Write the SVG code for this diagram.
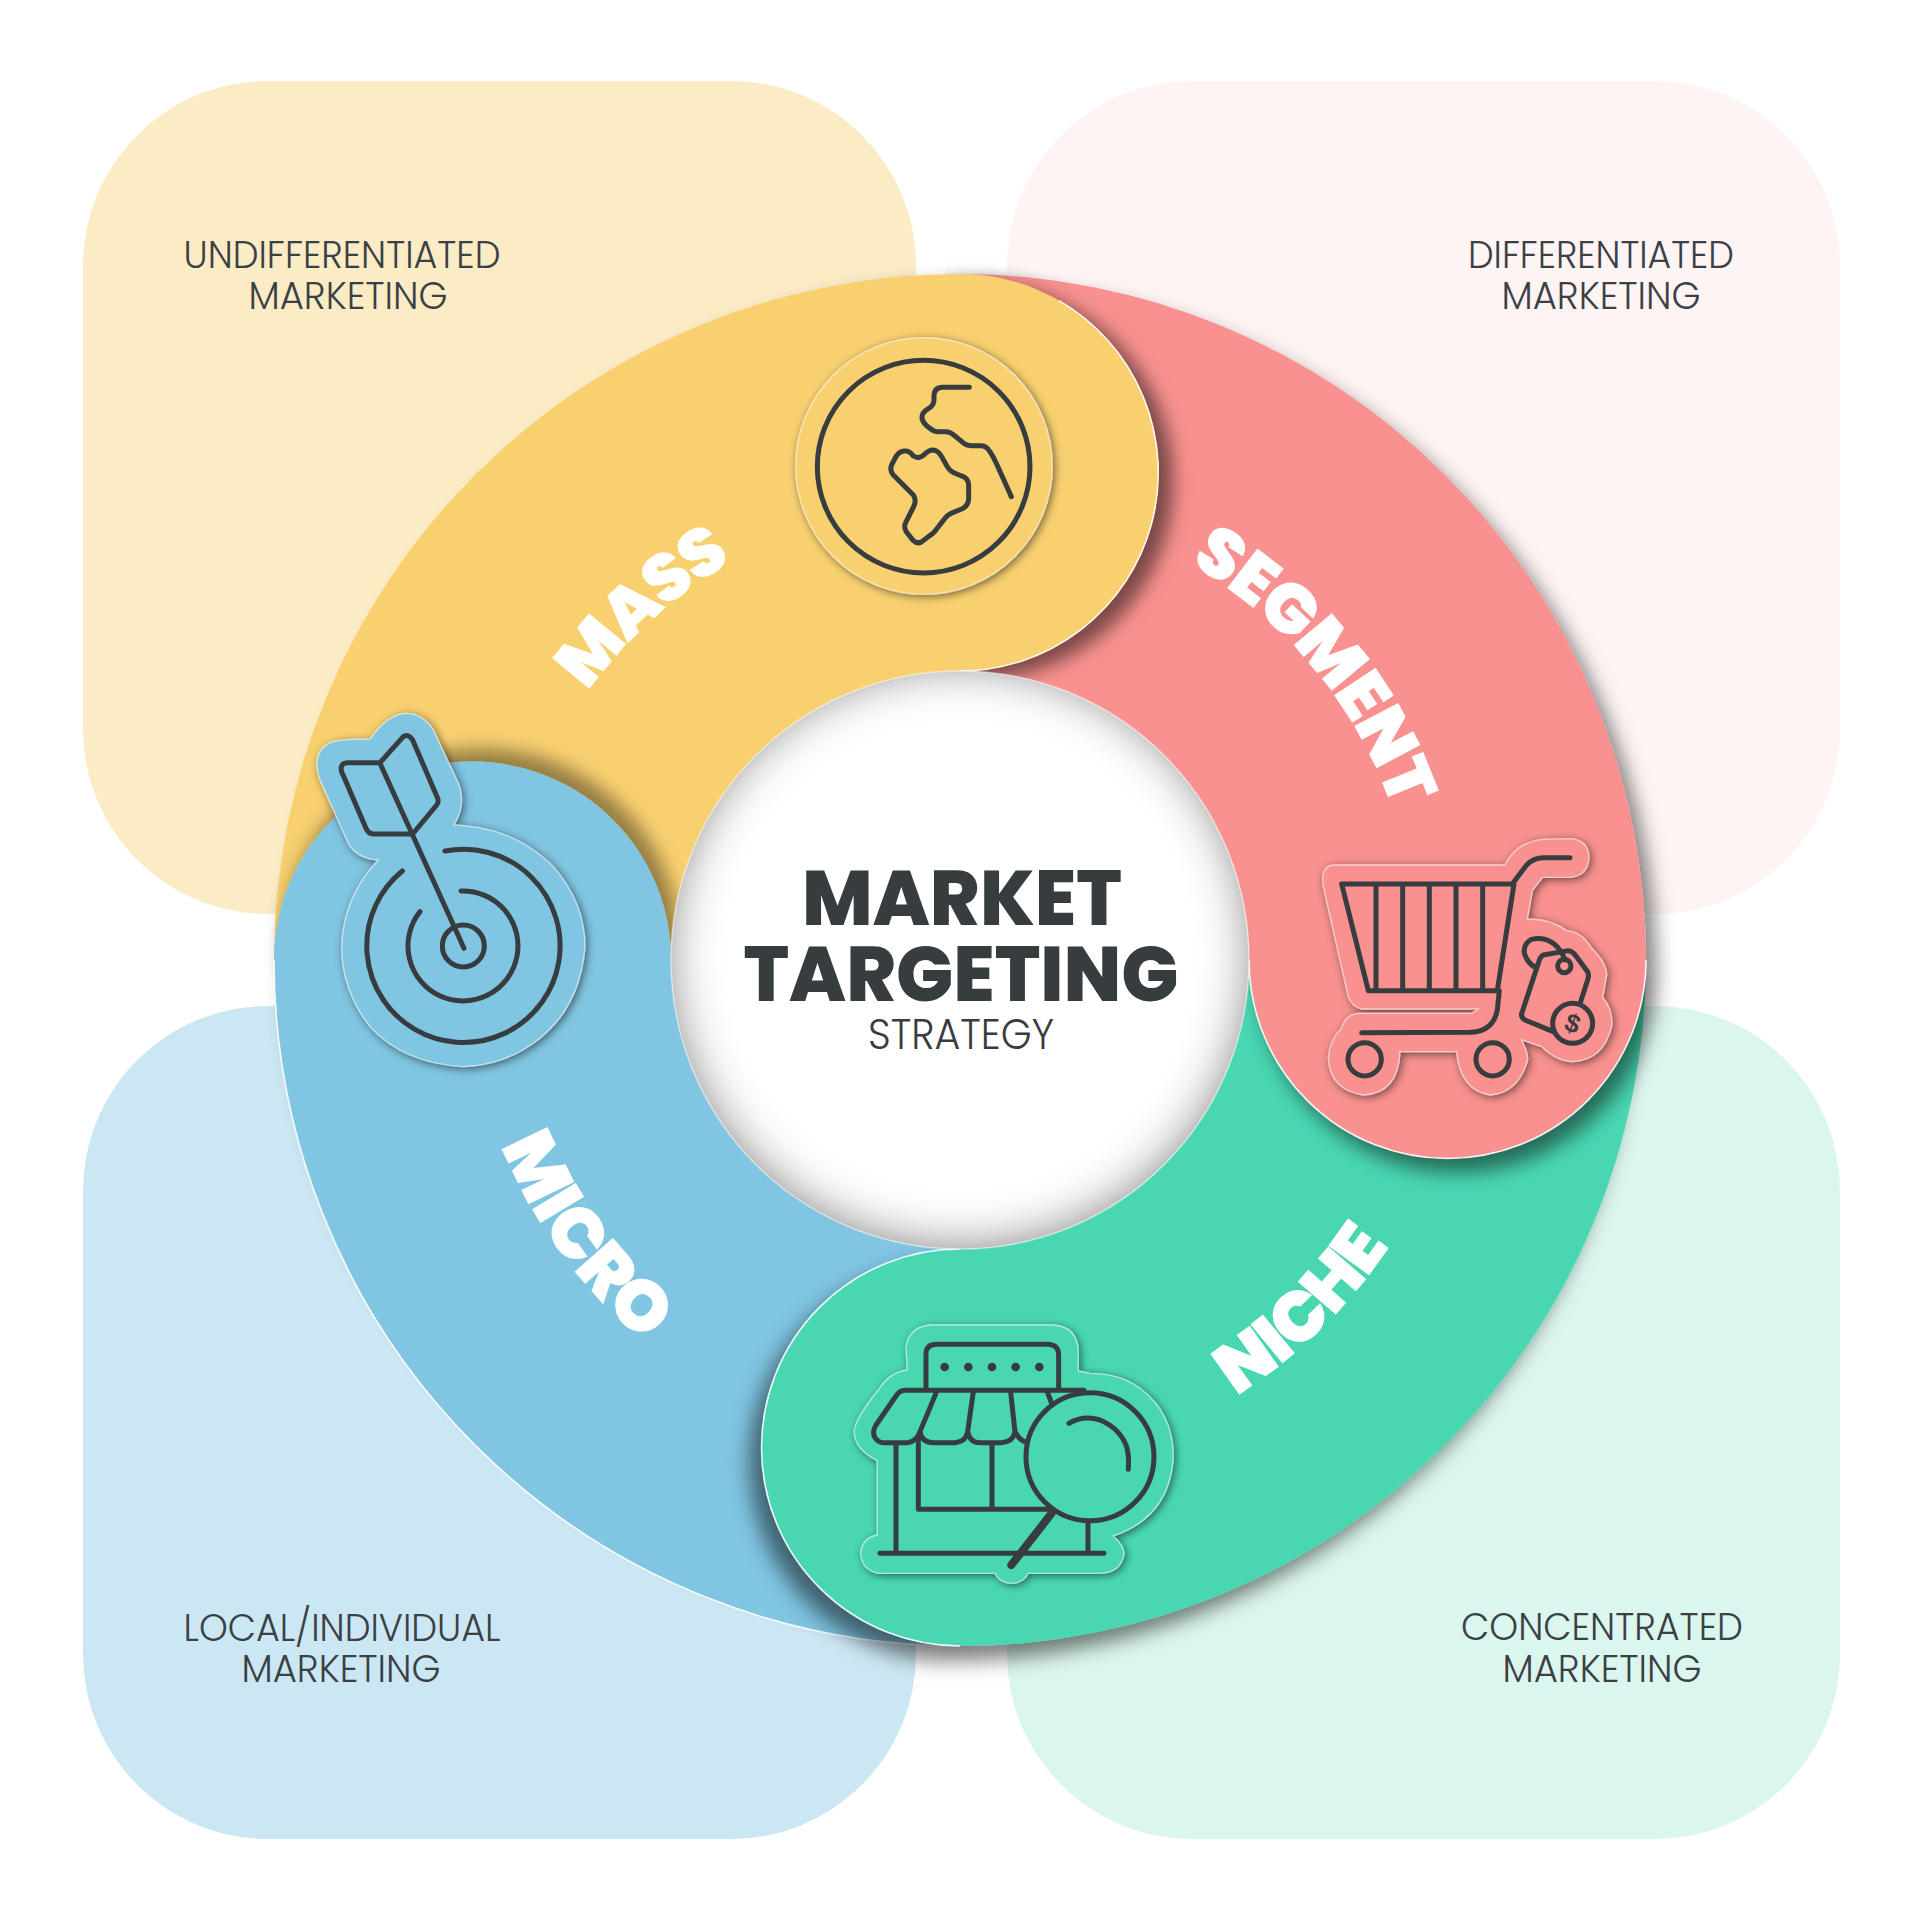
<svg xmlns="http://www.w3.org/2000/svg" width="1920" height="1920" viewBox="0 0 1920 1920">
<style>
.cap{font-family:"Poppins","Lato","Liberation Sans",sans-serif;font-weight:300;font-size:37px;fill:#3a4044;text-anchor:middle}
.head{font-family:"Poppins","Inter","Liberation Sans",sans-serif;font-weight:800;fill:#373c3f;text-anchor:middle}
.lab{font-family:"Poppins","Inter","Liberation Sans",sans-serif;font-weight:900;fill:#fff;text-anchor:middle}
.edge{fill:none;stroke:#fff;stroke-width:1.6;stroke-opacity:.9}
.ic{fill:none;stroke:#373c3f;stroke-width:15;stroke-linecap:round;stroke-linejoin:round}
.st{stroke:#fff;stroke-opacity:.55;stroke-width:4}
</style>
<defs>
<clipPath id="cy"><rect x="945" y="200" width="420" height="560"/></clipPath>
<filter id="fy" filterUnits="userSpaceOnUse" x="0" y="0" width="1920" height="1920"><feDropShadow dx="15" dy="9" stdDeviation="9" flood-color="#000" flood-opacity=".5"/></filter>
<filter id="fp" filterUnits="userSpaceOnUse" x="0" y="0" width="1920" height="1920"><feDropShadow dx="10" dy="14" stdDeviation="10" flood-color="#000" flood-opacity=".5"/></filter>
<filter id="fg" filterUnits="userSpaceOnUse" x="0" y="0" width="1920" height="1920"><feDropShadow dx="-12" dy="15" stdDeviation="10" flood-color="#000" flood-opacity=".5"/></filter>
<filter id="fb" filterUnits="userSpaceOnUse" x="0" y="0" width="1920" height="1920"><feDropShadow dx="9" dy="-13" stdDeviation="9" flood-color="#000" flood-opacity=".4"/></filter>
<filter id="fs" x="-20%" y="-20%" width="140%" height="140%"><feDropShadow dx="6" dy="6" stdDeviation="13" flood-color="#000" flood-opacity=".55"/></filter>
<filter id="fi" filterUnits="userSpaceOnUse" x="540" y="540" width="840" height="840">
<feFlood flood-color="#000" flood-opacity=".85" result="c"/>
<feComposite in="c" in2="SourceAlpha" operator="out" result="o"/>
<feGaussianBlur in="o" stdDeviation="24" result="b"/>
<feOffset in="b" dy="-4" result="b2"/>
<feComposite in="b2" in2="SourceAlpha" operator="in" result="s"/>
<feMerge><feMergeNode in="SourceGraphic"/><feMergeNode in="s"/></feMerge>
</filter>
<path id="p-mass" d="M511 1051A458 458 0 0 1 1105 525"/>
<path id="p-seg" d="M883 509A457 457 0 0 1 1389 1119"/>
<path id="p-niche" d="M820 1457A516 516 0 0 0 1460 833"/>
<path id="p-micro" d="M507 760A496 496 0 0 0 1014 1453"/>
</defs>
<rect width="1920" height="1920" fill="#fff"/>
<g id="panels">
<g id="panel-undifferentiated"><rect x="83" y="81" width="833" height="833" rx="185" fill="#fbecc6"/>
<text class="cap" x="342" y="268" textLength="317" lengthAdjust="spacingAndGlyphs">UNDIFFERENTIATED</text><text class="cap" x="348" y="309" textLength="199" lengthAdjust="spacingAndGlyphs">MARKETING</text></g>
<g id="panel-differentiated"><rect x="1007" y="81" width="833" height="833" rx="185" fill="#fef4f4"/>
<text class="cap" x="1601" y="268" textLength="266" lengthAdjust="spacingAndGlyphs">DIFFERENTIATED</text><text class="cap" x="1601" y="309" textLength="199" lengthAdjust="spacingAndGlyphs">MARKETING</text></g>
<g id="panel-local"><rect x="83" y="1006" width="833" height="833" rx="185" fill="#cbe7f3"/>
<text class="cap" x="342" y="1641" textLength="317" lengthAdjust="spacingAndGlyphs">LOCAL/INDIVIDUAL</text><text class="cap" x="341" y="1682" textLength="199" lengthAdjust="spacingAndGlyphs">MARKETING</text></g>
<g id="panel-concentrated"><rect x="1007" y="1006" width="833" height="833" rx="185" fill="#dbf6ee"/>
<text class="cap" x="1602" y="1640" textLength="282" lengthAdjust="spacingAndGlyphs">CONCENTRATED</text><text class="cap" x="1602" y="1682" textLength="199" lengthAdjust="spacingAndGlyphs">MARKETING</text></g>
</g>
<g id="ring">
<path fill="#f8d070" filter="url(#fy)" d="M274 960A686 686 0 0 1 960 274A198.5 198.5 0 0 1 960 671A289 289 0 0 0 671 960Z"/>
<path fill="#80c5e2" filter="url(#fb)" d="M960 1646A686 686 0 0 1 274 960A198.5 198.5 0 0 1 671 960A289 289 0 0 0 960 1249Z"/>
<path class="edge" d="M960 1646A686 686 0 0 1 274 960"/>
<path fill="#49d7b2" filter="url(#fg)" d="M1646 960A686 686 0 0 1 960 1646A198.5 198.5 0 0 1 960 1249A289 289 0 0 0 1249 960Z"/>
<path class="edge" d="M960 1646A198.5 198.5 0 0 1 960 1249"/>
<path fill="#f8918f" filter="url(#fp)" d="M960 274A686 686 0 0 1 1646 960A198.5 198.5 0 0 1 1249 960A289 289 0 0 0 960 671Z"/>
<path class="edge" d="M1646 960A198.5 198.5 0 0 1 1249 960"/>
<g clip-path="url(#cy)"><path fill="#f8d070" filter="url(#fy)" d="M930 274.6L960 274A198.5 198.5 0 0 1 960 671L930 671Z"/></g>
<path class="edge" d="M1059 300.6A198.5 198.5 0 0 1 960 671"/>
</g>
<g id="node-center">
<circle cx="960" cy="960" r="289" fill="#fff" filter="url(#fi)"/>
<circle cx="960" cy="960" r="289" fill="none" stroke="#fff" stroke-opacity=".5" stroke-width="1.5"/>
<text class="head" x="962" y="925" font-size="78" textLength="320" lengthAdjust="spacingAndGlyphs">MARKET</text>
<text class="head" x="961" y="1001" font-size="78" textLength="435" lengthAdjust="spacingAndGlyphs">TARGETING</text>
<text x="961" y="1049" font-family="Poppins,Lato,'Liberation Sans',sans-serif" font-weight="300" font-size="43" fill="#373c3f" text-anchor="middle" textLength="186" lengthAdjust="spacingAndGlyphs">STRATEGY</text>
</g>
<g id="node-mass">
<text class="lab" font-size="68" letter-spacing="-2"><textPath href="#p-mass" startOffset="49.5%">MASS</textPath></text>
<g transform="translate(760 300) scale(.3333)">
<circle cx="492" cy="498" r="385" fill="#f8d070" filter="url(#fs)" class="st"/>
<circle cx="491" cy="500" r="319" class="ic"/>
<path class="ic" d="M628 262L548 262Q522 262 522 290L522 300Q522 316 505 326Q484 338 486 355Q490 372 510 385Q522 396 540 395L560 395Q572 396 585 408L612 430Q622 438 640 437L665 437Q680 438 690 455Q700 470 710 492L754 590"/>
<path class="ic" d="M432 453Q450 452 458 466Q475 480 492 465Q505 450 520 450Q535 452 545 470L562 500Q570 515 590 522L605 528Q625 535 626 555L626 595Q626 618 605 627L580 637Q565 642 555 655L530 687Q522 700 505 710L490 722Q475 735 460 722L440 697Q430 682 437 668L462 618Q470 600 460 585L400 525Q388 512 395 495L405 475Q415 455 432 453Z"/>
</g>
</g>
<g id="node-segment">
<text class="lab" font-size="70" letter-spacing="-2"><textPath href="#p-seg" startOffset="50%">SEGMENT</textPath></text>
<g transform="translate(1290 800) scale(.3333)">
<path fill="#f8918f" class="st" filter="url(#fs)" d="M130 195L645 195Q680 125 760 118L840 116Q895 120 897 172Q895 228 840 232L758 232L727 272L712 358Q780 355 830 392Q875 395 905 445Q950 490 950 525L938 592Q970 630 965 680Q940 780 850 785Q800 785 755 740L695 720Q720 770 710 790Q680 880 600 885Q510 870 500 755L330 755Q325 880 220 885Q120 870 115 775Q118 720 155 685Q165 645 205 640L545 640L565 627L215 627Q185 620 175 590L100 260Q90 200 130 195Z"/>
<path class="ic" d="M155 252L672 252L622 572L235 572ZM258 252V572M338 252V572M418 252V572M498 252V572M578 252V572"/>
<path class="ic" d="M672 245L710 195Q730 173 760 173L840 173M628 572L622 630Q610 695 540 697L215 698"/>
<circle cx="224" cy="778" r="50" class="ic"/><circle cx="608" cy="778" r="50" class="ic"/>
<path class="ic" d="M790 695L705 660Q690 650 697 635L745 490Q750 470 760 465L835 452Q850 455 858 468L893 515Q898 525 893 540L872 605M825 480Q815 450 790 430Q760 410 725 418Q700 430 703 460Q712 490 740 505"/>
<circle cx="823" cy="498" r="20" class="ic"/>
<circle cx="848" cy="670" r="60" class="ic"/>
<text x="848" y="697" font-family="'Liberation Sans',sans-serif" font-weight="700" font-size="78" fill="#373c3f" text-anchor="middle" transform="rotate(20 848 670)">$</text>
</g>
</g>
<g id="node-niche">
<text class="lab" font-size="71" letter-spacing="-2"><textPath href="#p-niche" startOffset="50%">NICHE</textPath></text>
<g transform="translate(820 1300) scale(.3333)">
<path fill="#49d7b2" class="st" filter="url(#fs)" d="M262 210L258 140Q270 75 340 75L700 75Q770 80 775 150L775 213L810 220Q900 220 960 265Q1060 340 1060 470Q1050 650 880 708Q915 740 912 765Q900 820 840 820L625 820Q610 850 575 850Q540 850 525 820L175 820Q125 810 122 760Q125 715 172 705L172 482Q100 445 103 390Q110 350 175 270Q210 215 262 210Z"/>
<path class="ic" d="M318 265L318 160Q320 133 350 133L685 133Q716 135 716 165L716 265"/>
<g fill="#373c3f"><circle cx="374" cy="201" r="13"/><circle cx="445" cy="201" r="13"/><circle cx="516" cy="201" r="13"/><circle cx="587" cy="201" r="13"/><circle cx="658" cy="201" r="13"/></g>
<path class="ic" d="M792 271L255 271Q240 272 230 285L168 375Q155 395 165 413Q175 428 190 428L262 428Q290 425 300 395L350 275M300 395Q305 428 340 428L405 428Q438 425 443 395L460 275M443 395Q450 428 480 428L545 428Q580 425 585 395L572 275M585 395Q600 425 625 428M682 275L695 310M228 428V760M295 410V628H690M516 428V628M804 662V760M180 760H852"/>
<circle cx="810" cy="470" r="192" class="ic" style="fill:#49d7b2"/>
<path class="ic" d="M747 370Q790 345 840 360Q900 385 920 440Q928 470 925 508"/>
<path class="ic" style="stroke-width:24" d="M695 640L574 795"/>
</g>
</g>
<g id="node-micro">
<text class="lab" font-size="72" letter-spacing="-1"><textPath href="#p-micro" startOffset="50%">MICRO</textPath></text>
<g transform="translate(290 690) scale(.3333)">
<path fill="#80c5e2" class="st" filter="url(#fs)" d="M240 148Q290 75 345 70Q400 70 430 120L505 280Q530 340 492 405L520 407Q680 420 790 530Q885 640 885 770Q870 960 730 1060Q640 1125 520 1130Q340 1120 240 1010Q155 900 155 770Q160 620 265 510Q200 505 175 460L90 270Q60 180 130 155Q170 145 240 148Z"/>
<circle cx="520" cy="768" r="63" class="ic"/>
<path class="ic" d="M513 603A165 165 0 1 1 390 665"/>
<path class="ic" d="M465 483A290 290 0 1 1 337 543"/>
<path class="ic" d="M270 220L522 775M270 218L340 140Q355 130 368 150L443 325Q447 338 440 345L368 432L250 432Q235 432 228 415L155 245Q148 218 175 218L270 218"/>
</g>
</g>
</svg>
